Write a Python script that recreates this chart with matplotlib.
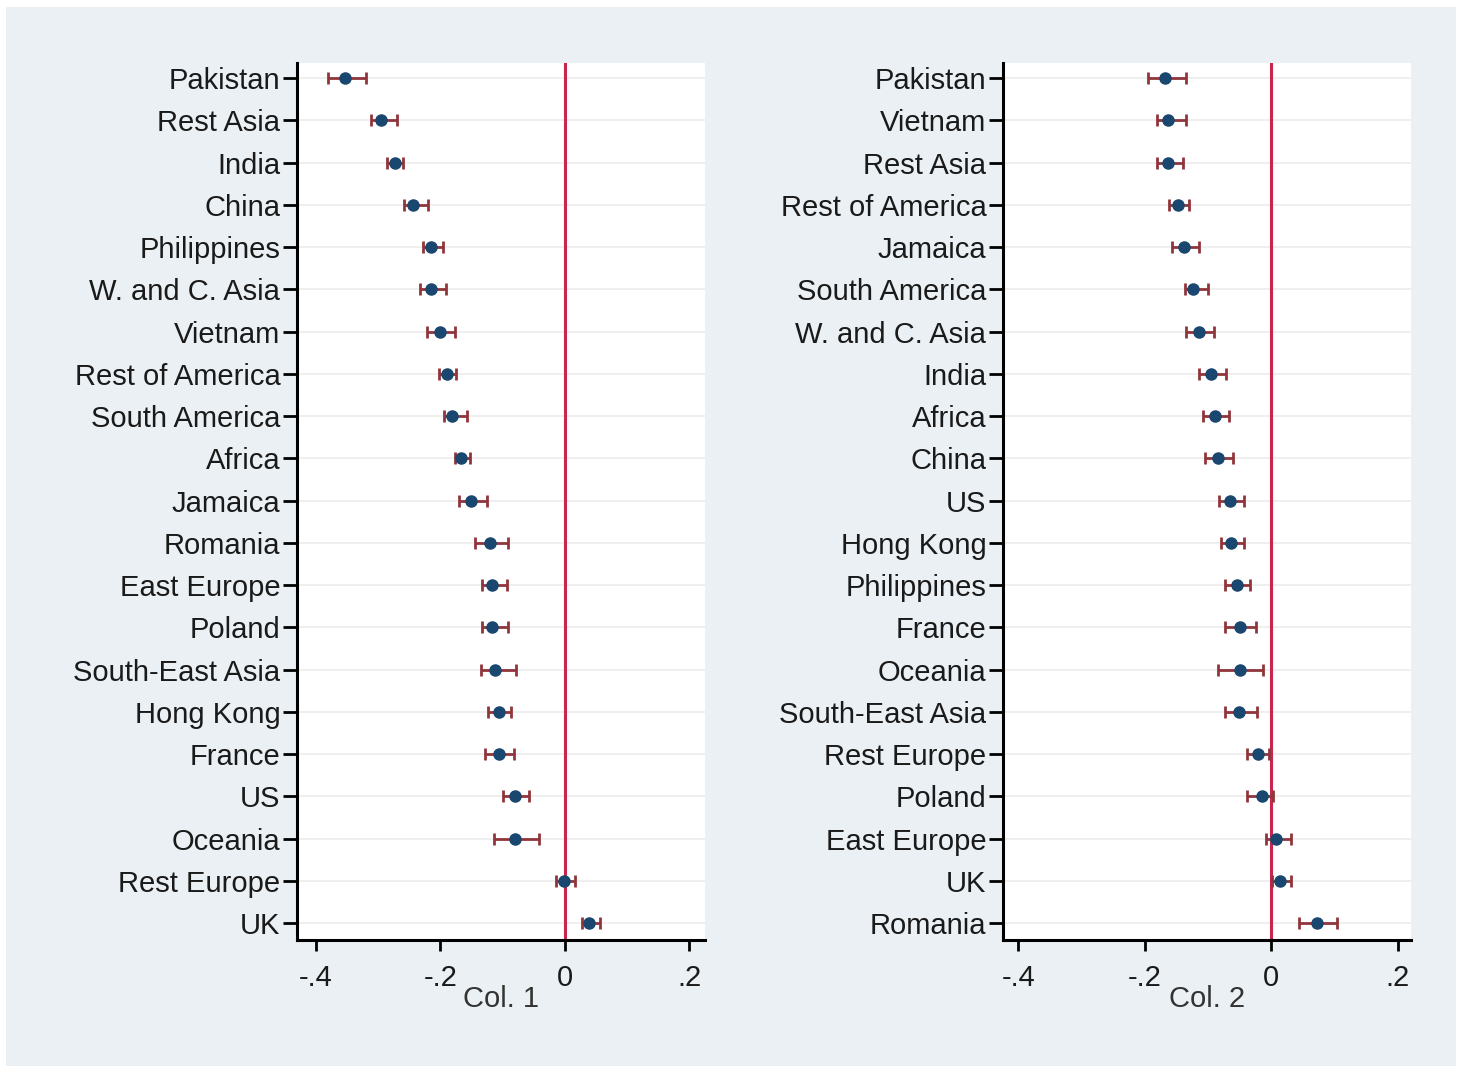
import matplotlib.pyplot as plt
from matplotlib.patches import Rectangle
import numpy as np

plt.rcParams['font.family'] = ['Liberation Sans', 'DejaVu Sans']

# Col. 1 estimates with 95% CI
labels1 = ["Pakistan", "Rest Asia", "India", "China", "Philippines", "W. and C. Asia",
           "Vietnam", "Rest of America", "South America", "Africa", "Jamaica", "Romania",
           "East Europe", "Poland", "South-East Asia", "Hong Kong", "France", "US",
           "Oceania", "Rest Europe", "UK"]
coef1 = [-0.353, -0.295, -0.273, -0.244, -0.215, -0.215, -0.201, -0.189, -0.181, -0.167,
         -0.151, -0.120, -0.117, -0.117, -0.112, -0.106, -0.106, -0.080, -0.080, -0.002, 0.039]
lo1 = [-0.380, -0.311, -0.286, -0.258, -0.228, -0.233, -0.222, -0.202, -0.194, -0.177,
       -0.170, -0.144, -0.133, -0.133, -0.135, -0.124, -0.128, -0.100, -0.114, -0.014, 0.027]
hi1 = [-0.319, -0.270, -0.260, -0.220, -0.196, -0.191, -0.177, -0.175, -0.157, -0.152,
       -0.125, -0.091, -0.093, -0.091, -0.079, -0.087, -0.082, -0.058, -0.042, 0.016, 0.056]

# Col. 2 estimates with 95% CI
labels2 = ["Pakistan", "Vietnam", "Rest Asia", "Rest of America", "Jamaica", "South America",
           "W. and C. Asia", "India", "Africa", "China", "US", "Hong Kong", "Philippines",
           "France", "Oceania", "South-East Asia", "Rest Europe", "Poland", "East Europe",
           "UK", "Romania"]
coef2 = [-0.168, -0.163, -0.163, -0.147, -0.138, -0.123, -0.114, -0.095, -0.089, -0.084,
         -0.065, -0.063, -0.054, -0.049, -0.049, -0.051, -0.021, -0.014, 0.008, 0.014, 0.073]
lo2 = [-0.195, -0.180, -0.180, -0.161, -0.157, -0.136, -0.134, -0.114, -0.108, -0.104,
       -0.082, -0.079, -0.073, -0.073, -0.084, -0.073, -0.038, -0.038, -0.009, 0.001, 0.044]
hi2 = [-0.134, -0.134, -0.139, -0.130, -0.114, -0.100, -0.090, -0.071, -0.066, -0.060,
       -0.043, -0.043, -0.033, -0.024, -0.013, -0.022, -0.003, 0.003, 0.032, 0.031, 0.104]

xticks = [-0.4, -0.2, 0, 0.2]
xticklabels = ["-.4", "-.2", "0", ".2"]

navy = '#1a476f'
maroon = '#90353b'
zero_col = '#c8264f'
txt = '#1a1a1a'

fig = plt.figure(figsize=(14.59, 10.69), dpi=100)
fig.patches.append(Rectangle((6/1459, 3/1069), 1450/1459, 1059/1069,
                             transform=fig.transFigure, facecolor='#eaf0f3',
                             edgecolor='none', zorder=-5))


def panel(ax, labels, coef, lo, hi, xlab):
    y = np.arange(len(labels))
    coef = np.array(coef)
    err = np.vstack([coef - np.array(lo), np.array(hi) - coef])
    ax.set_facecolor('white')
    for yy in y:
        ax.axhline(yy, color='#ececec', lw=1.2, zorder=0)
    ax.axvline(0, color=zero_col, lw=2.2, zorder=1)
    ax.errorbar(coef, y, xerr=err, fmt='none', ecolor=maroon, elinewidth=2,
                capsize=4.5, capthick=2, zorder=2)
    ax.plot(coef, y, 'o', color=navy, ms=8, zorder=3)
    ax.set_ylim(20.4, -0.36)
    ax.set_yticks(y)
    ax.set_yticklabels(labels, fontsize=21, color=txt)
    ax.set_xticks(xticks)
    ax.set_xticklabels(xticklabels, fontsize=21, color=txt)
    ax.tick_params(axis='y', length=10, width=2, pad=2)
    ax.tick_params(axis='x', length=8, width=2, pad=9)
    for s in ['top', 'right']:
        ax.spines[s].set_visible(False)
    for s in ['left', 'bottom']:
        ax.spines[s].set_linewidth(2.2)
    ax.set_xlabel(xlab, fontsize=21, color='#333333')
    ax.xaxis.set_label_coords(0.5, -0.051)


ax1 = fig.add_axes([297/1459, 1 - 940/1069, 408/1459, 877/1069])
ax1.set_xlim(-0.430, 0.225)
panel(ax1, labels1, coef1, lo1, hi1, "Col. 1")

ax2 = fig.add_axes([1003/1459, 1 - 940/1069, 408/1459, 877/1069])
ax2.set_xlim(-0.424, 0.221)
panel(ax2, labels2, coef2, lo2, hi2, "Col. 2")

fig.savefig('out.png', dpi=100)
